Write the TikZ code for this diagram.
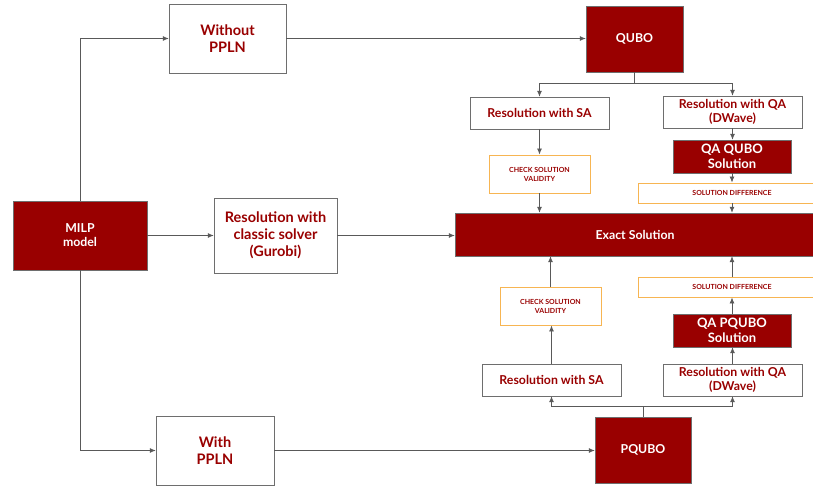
\documentclass[tikz,border=0pt]{standalone}
\usepackage{fontspec}
\setmainfont{Lato}
\usepackage{tikz}
\usetikzlibrary{arrows.meta,positioning,calc}

\definecolor{qred}{HTML}{990000}
\definecolor{qline}{HTML}{595959}
\definecolor{qframe}{HTML}{6E6E6E}
\definecolor{qorange}{HTML}{F7B552}

\tikzset{
  redbox/.style={draw=qframe,fill=qred,text=white,align=center,inner sep=0pt,
    font=\bfseries\fontsize{12.3}{14}\selectfont},
  whitebox/.style={draw=qframe,fill=white,text=qred,align=center,inner sep=0pt,
    font=\bfseries\fontsize{12.3}{14}\selectfont},
  bigtext/.style={font=\bfseries\fontsize{14.5}{17}\selectfont},
  checkbox/.style={draw=qorange,line width=0.9pt,fill=white,text=qred,align=center,inner sep=0pt,
    font=\bfseries\fontsize{7}{9}\selectfont},
  link/.style={draw=qline,line width=0.8pt}
}

\begin{document}
\begin{tikzpicture}[x=1pt,y=-1pt,>={Latex[length=6pt,width=5pt]}]
\useasboundingbox (0,0) rectangle (813,487);
\clip (0,0) rectangle (813,487);

% left column
\node[redbox,minimum width=134pt,minimum height=69pt] (milp) at (80,235.5) {MILP\\model};
\node[whitebox,bigtext,minimum width=117pt,minimum height=69pt] (without) at (227.5,38.5) {Without\\PPLN};
\node[whitebox,bigtext,minimum width=123pt,minimum height=75pt] (gurobi) at (275.5,235.5) {Resolution with\\classic solver\\(Gurobi)};
\node[whitebox,bigtext,minimum width=118pt,minimum height=69pt] (with) at (215,450.5) {With\\PPLN};

% qubo branch
\node[redbox,minimum width=97pt,minimum height=66pt] (qubo) at (634.5,39) {QUBO};
\node[whitebox,minimum width=139pt,minimum height=32pt] (sa1) at (539.5,113) {Resolution with SA};
\node[whitebox,minimum width=139pt,minimum height=32pt] (qa1) at (732.5,112) {Resolution with QA\\(DWave)};
\node[redbox,minimum width=118pt,minimum height=33pt,font=\bfseries\fontsize{13}{15}\selectfont] (qasol1) at (732,156.5) {QA QUBO\\Solution};
\node[checkbox,minimum width=101pt,minimum height=38pt] (check1) at (539.5,174) {CHECK SOLUTION\\VALIDITY};
\node[checkbox,minimum width=188pt,minimum height=20pt] (diff1) at (732,193) {SOLUTION DIFFERENCE};

% exact solution
\node[redbox,minimum width=360pt,minimum height=43pt] (exact) at (635,234.5) {Exact Solution};

% pqubo branch
\node[checkbox,minimum width=101pt,minimum height=38pt] (check2) at (550.5,306) {CHECK SOLUTION\\VALIDITY};
\node[checkbox,minimum width=188pt,minimum height=20pt] (diff2) at (732,287) {SOLUTION DIFFERENCE};
\node[redbox,minimum width=118pt,minimum height=33pt,font=\bfseries\fontsize{13}{15}\selectfont] (qasol2) at (732,330.5) {QA PQUBO\\Solution};
\node[whitebox,minimum width=139pt,minimum height=32pt] (sa2) at (551.5,380) {Resolution with SA};
\node[whitebox,minimum width=139pt,minimum height=32pt] (qa2) at (732.5,380) {Resolution with QA\\(DWave)};
\node[redbox,minimum width=96pt,minimum height=66pt] (pqubo) at (643,450) {PQUBO};

\coordinate (qsplit) at ($(qubo.south)+(0,11)$);
\coordinate (psplit) at ($(pqubo.north)+(0,-10)$);

% connectors
\path[link,->] (milp.north) |- (without.west);
\path[link,->] (milp.south) |- (with.west);
\path[link,->] (milp.east) -- (gurobi.west);
\path[link,->] (gurobi.east) -- (gurobi.east -| exact.west);
\path[link,->] (without.east) -- (without.east -| qubo.west);
\path[link,->] (with.east) -- (with.east -| pqubo.west);

\path[link] (qubo.south) -- (qsplit);
\path[link,->] (qsplit) -| (sa1.north);
\path[link,->] (qsplit) -| (qa1.north);
\path[link,->] (sa1.south) -- (check1.north);
\path[link,->] (check1.south) -- (check1.south |- exact.north);
\path[link,->] (qa1.south) -- (qa1.south |- qasol1.north);
\path[link,->] (qasol1.south) -- (diff1.north);
\path[link,->] (diff1.south) -- (diff1.south |- exact.north);

\path[link] (pqubo.north) -- (psplit);
\path[link,->] (psplit) -| (sa2.south);
\path[link,->] (psplit) -| (qa2.south);
\path[link,->] (sa2.north) -- (sa2.north |- check2.south);
\path[link,->] (check2.north) -- (check2.north |- exact.south);
\path[link,->] (qa2.north) -- (qa2.north |- qasol2.south);
\path[link,->] (qasol2.north) -- (diff2.south);
\path[link,->] (diff2.north) -- (diff2.north |- exact.south);
\end{tikzpicture}
\end{document}
